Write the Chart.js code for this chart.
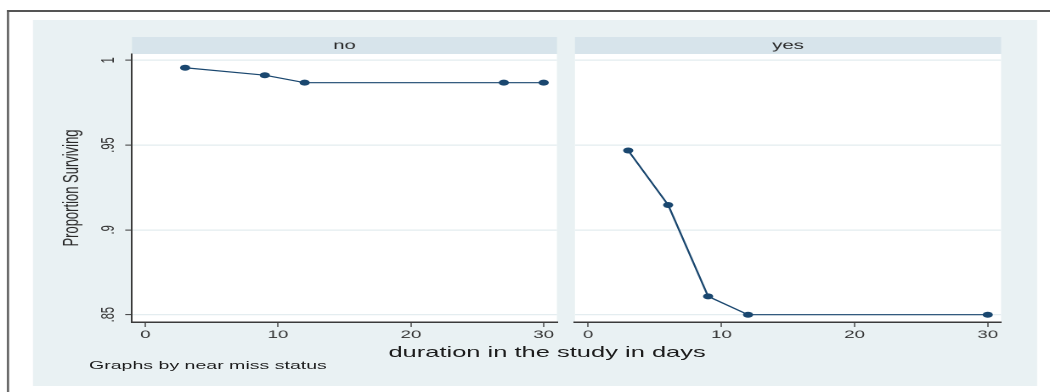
<!DOCTYPE html>
<html>
<head>
<meta charset="utf-8">
<title>Proportion Surviving by near miss status</title>
<script src="https://cdn.jsdelivr.net/npm/chart.js@4.4.1/dist/chart.umd.min.js"></script>
<style>
  html, body { margin: 0; padding: 0; background: #ffffff; overflow: hidden; }
  /* the figure is laid out on a 618px-wide grid and widened to 1050px */
  #fig {
    position: absolute; left: 0; top: 0;
    width: 618px; height: 392px;
    transform: scaleX(1.699); transform-origin: 0 0;
    font-family: "Liberation Sans", Arial, Helvetica, sans-serif;
  }
  #fig canvas { position: absolute; left: 0; top: 0; }
  .lbl { position: absolute; white-space: nowrap; color: #1c1c1c; line-height: 1; }
</style>
</head>
<body>
<div id="fig">
  <canvas id="panelNo" width="618" height="392"></canvas>
  <canvas id="panelYes" width="618" height="392"></canvas>
  <div class="lbl" style="font-size:15px; left:322px; top:344.3px; transform:translateX(-50%);">duration in the study in days</div>
  <div class="lbl" style="font-size:11.5px; left:52.4px; top:360.3px;">Graphs by near miss status</div>
</div>

<script>
// ---- data -------------------------------------------------------------
const panelNames  = ['no', 'yes'];
const daysNo      = [3, 9, 12, 27, 30];
const survivalNo  = [0.9956, 0.9912, 0.9868, 0.9868, 0.9868];
const daysYes     = [3, 6, 9, 12, 30];
const survivalYes = [0.9468, 0.9147, 0.8608, 0.85, 0.85];
const xTickValues = [0, 10, 20, 30];
const yTickValues = [0.85, 0.9, 0.95, 1];
const yTickLabels = ['.85', '.9', '.95', '1'];

// ---- styling ----------------------------------------------------------
const FONT      = '"Liberation Sans", Arial, Helvetica, sans-serif';
const NAVY      = '#1a476f';
const REGION_BG = '#e9f1f3';
const STRIP_BG  = '#d7e4eb';
const GRID      = '#e4edf0';
const AXIS      = '#3a3a3a';
const TEXT      = '#2a2a2a';
const W = 618, H = 392;
const PLOT_TOP = 54, PLOT_BOTTOM = 322, XAXIS_H = 20;

// outer frame and light graph region, painted once underneath both panels
const backdrop = {
  id: 'backdrop',
  beforeDraw(chart) {
    const ctx = chart.ctx;
    ctx.save();
    ctx.fillStyle = '#ffffff';
    ctx.fillRect(0, 0, W, H);
    ctx.fillStyle = '#555555';
    ctx.fillRect(4.1, 10, 1.2, H);      // left edge of frame
    ctx.fillRect(4.1, 10, W, 2);        // top edge of frame
    ctx.fillStyle = REGION_BG;
    ctx.fillRect(19.4, 20, 591, 366);
    ctx.restore();
  }
};

// white plot area plus the labelled strip on top of each panel
const panelStrip = {
  id: 'panelStrip',
  beforeDraw(chart, args, opts) {
    const { ctx, chartArea: a } = chart;
    ctx.save();
    ctx.fillStyle = '#ffffff';
    ctx.fillRect(a.left, a.top, a.right - a.left, a.bottom - a.top);
    ctx.fillStyle = STRIP_BG;
    ctx.fillRect(a.left, 37, a.right - a.left, a.top - 37);
    ctx.fillStyle = TEXT;
    ctx.font = '12px ' + FONT;
    ctx.textAlign = 'center';
    ctx.textBaseline = 'middle';
    ctx.fillText(opts.label, (a.left + a.right) / 2, 45.5);
    ctx.restore();
  }
};

function xScale() {
  return {
    type: 'linear',
    min: -1, max: 31,
    afterBuildTicks: s => { s.ticks = xTickValues.map(v => ({ value: v })); },
    afterFit: s => { s.height = XAXIS_H; },
    ticks: {
      autoSkip: false, maxRotation: 0, padding: 1.5,
      color: '#333333', font: { family: FONT, size: 11 }
    },
    grid: { drawOnChartArea: false, tickLength: 5, tickColor: AXIS, tickWidth: 0.7 },
    border: { display: true, color: AXIS, width: 1.5 }
  };
}

function yScale(withAxis) {
  const base = {
    type: 'linear',
    min: 0.8457, max: 1.0037,
    afterBuildTicks: s => { s.ticks = yTickValues.map(v => ({ value: v })); },
    grid: { color: GRID, lineWidth: 1.2 }
  };
  if (!withAxis) {
    return Object.assign(base, {
      afterFit: s => { s.width = 0; },
      ticks: { display: false },
      grid: { color: GRID, lineWidth: 1.2, drawTicks: false },
      border: { display: false }
    });
  }
  return Object.assign(base, {
    afterFit: s => { s.width = 77.7; },
    ticks: {
      autoSkip: false, minRotation: 90, maxRotation: 90,
      crossAlign: 'center', padding: 2.2,
      color: '#333333', font: { family: FONT, size: 11 },
      callback: v => yTickLabels[yTickValues.indexOf(v)]
    },
    grid: { color: GRID, lineWidth: 1.2, tickLength: 4, tickColor: AXIS, tickWidth: 1 },
    border: { display: true, color: AXIS, width: 1 },
    title: {
      display: true, text: 'Proportion Surviving', color: TEXT,
      font: { family: FONT, size: 13 }, padding: { top: 34.4, bottom: 0 }
    }
  });
}

function panelChart(canvasId, label, days, survival, padLeft, padRight, withAxis, extraPlugins) {
  return new Chart(document.getElementById(canvasId), {
    type: 'line',
    data: {
      datasets: [{
        label: label,
        data: days.map((d, i) => ({ x: d, y: survival[i] })),
        borderColor: NAVY,
        backgroundColor: NAVY,
        borderWidth: 1.2,
        pointRadius: 3,
        pointBorderWidth: 0,
        pointBackgroundColor: NAVY,
        tension: 0,
        fill: false
      }]
    },
    options: {
      responsive: false,
      animation: false,
      devicePixelRatio: 2,
      events: [],
      layout: { padding: { left: padLeft, right: padRight, top: PLOT_TOP, bottom: H - PLOT_BOTTOM - XAXIS_H } },
      plugins: {
        legend: { display: false },
        tooltip: { enabled: false },
        panelStrip: { label: label }
      },
      scales: { x: xScale(), y: yScale(withAxis) }
    },
    plugins: extraPlugins.concat([panelStrip])
  });
}

panelChart('panelNo',  panelNames[0], daysNo,  survivalNo,  0,     W - 327.8, true,  [backdrop]);
panelChart('panelYes', panelNames[1], daysYes, survivalYes, 338.4, W - 589.2, false, []);
</script>
</body>
</html>
